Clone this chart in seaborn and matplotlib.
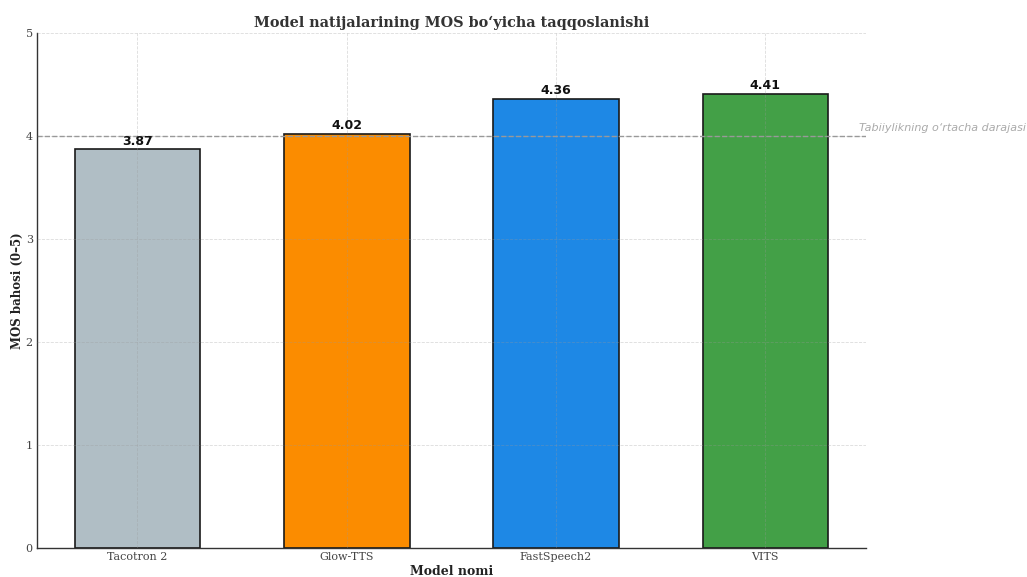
import matplotlib
matplotlib.use("Agg")
import matplotlib.pyplot as plt
import seaborn as sns
import pandas as pd

models = ["Tacotron 2", "Glow-TTS", "FastSpeech2", "VITS"]
mos_scores = [3.87, 4.02, 4.36, 4.41]
bar_colors = ["#B0BEC5", "#FB8C00", "#1E88E5", "#43A047"]
reference_level = 4.0
reference_label = "Tabiiylikning o‘rtacha darajasi"

df = pd.DataFrame({"model": models, "mos": mos_scores})

sns.set_style("white")
plt.rcParams["font.family"] = ["DejaVu Serif"]

fig = plt.figure(figsize=(10.27, 5.77), dpi=100)
ax = fig.add_axes([0.036, 0.0503, 0.807, 0.8925])

sns.barplot(data=df, x="model", y="mos", hue="model", palette=bar_colors,
            legend=False, width=0.6, edgecolor="#1a1a1a", linewidth=1.2,
            saturation=1, ax=ax)

ax.set_xlim(-0.48, 3.48)
ax.set_ylim(0, 5)
ax.set_yticks(range(0, 6))
ax.grid(True, color="#999999", linestyle="--", linewidth=0.6, alpha=0.35)
ax.set_axisbelow(False)

ax.axhline(reference_level, color="#999999", linestyle="--", linewidth=1.0)
ax.text(3.45, reference_level + 0.03, reference_label, fontsize=8,
        style="italic", color="#aaaaaa", family="DejaVu Sans",
        ha="left", va="bottom")

for i, v in enumerate(mos_scores):
    ax.text(i, v + 0.015, f"{v:.2f}", ha="center", va="bottom",
            fontsize=9, fontweight="bold", family="DejaVu Sans", color="#111111")

ax.set_title("Model natijalarining MOS bo‘yicha taqqoslanishi",
             fontsize=10.4, fontweight="bold", color="#333333", pad=4)
ax.set_xlabel("Model nomi", fontsize=9, fontweight="bold", color="#222222", labelpad=2)
ax.set_ylabel("MOS bahosi (0–5)", fontsize=8.5, fontweight="bold", color="#222222", labelpad=1)

ax.tick_params(axis="both", labelsize=8, colors="#444444", length=0, pad=3)
for side in ["top", "right"]:
    ax.spines[side].set_visible(False)
for side in ["left", "bottom"]:
    ax.spines[side].set_color("#333333")
    ax.spines[side].set_linewidth(1.0)

fig.savefig("out.png", dpi=100)
